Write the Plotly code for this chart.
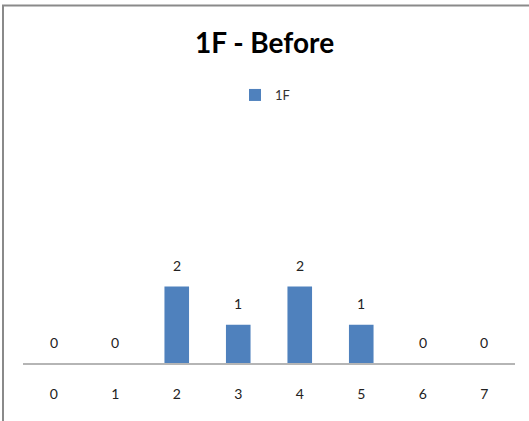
import plotly.graph_objects as go

categories = ["0", "1", "2", "3", "4", "5", "6", "7"]
values = [0, 0, 2, 1, 2, 1, 0, 0]
series_name = "1F"
title_text = "1F - Before"

W, H = 529, 421
L, R, T, B = 23, 14, 120, 58
PW, PH = W - L - R, H - T - B

def px_x(p):
    return (p - L) / PW

def px_y(p):
    return (H - B - p) / PH

FONT = "Lato"
BLUE = "#4F81BD"

fig = go.Figure()
fig.add_trace(go.Bar(
    x=categories, y=values, name=series_name,
    marker=dict(color=BLUE, line=dict(width=0)),
    width=0.4, showlegend=True,
))

for c, v in zip(categories, values):
    fig.add_annotation(x=c, y=v, text=str(v), showarrow=False,
                       yshift=21, font=dict(family=FONT, size=14, color="#222222"))

border = dict(type="path", xref="paper", yref="paper",
              path=f"M {px_x(3)} {px_y(421)} L {px_x(3)} {px_y(5.5)} L {px_x(529)} {px_y(5.5)}",
              line=dict(color="#8a8a8a", width=2))

fig.update_layout(
    width=W, height=H,
    margin=dict(l=L, r=R, t=T, b=B),
    paper_bgcolor="white", plot_bgcolor="white",
    title=dict(text=f"<b>{title_text}</b>", x=0.5, xref="container", xanchor="center",
               y=1 - 43 / H, yref="container", yanchor="middle",
               font=dict(family=FONT, size=28, color="black")),
    legend=dict(orientation="h", x=px_x(265), xanchor="center", y=px_y(95), yanchor="middle",
                font=dict(family=FONT, size=13, color="#333333"), itemwidth=30,
                bgcolor="rgba(0,0,0,0)"),
    xaxis=dict(type="category", showline=True, linecolor="#b5b5b5", linewidth=1.5,
               ticks="", showgrid=False, zeroline=False, ticklabelstandoff=17,
               tickfont=dict(family=FONT, size=14, color="#222222"),
               range=[-0.5, 7.5]),
    yaxis=dict(visible=False, range=[0, (H - B - T) / 38.25], showgrid=False, zeroline=False),
    shapes=[border],
    bargap=0.6,
)

fig.write_html("out.html", config={"displayModeBar": False},
               post_script="document.body.style.margin='0px';")
